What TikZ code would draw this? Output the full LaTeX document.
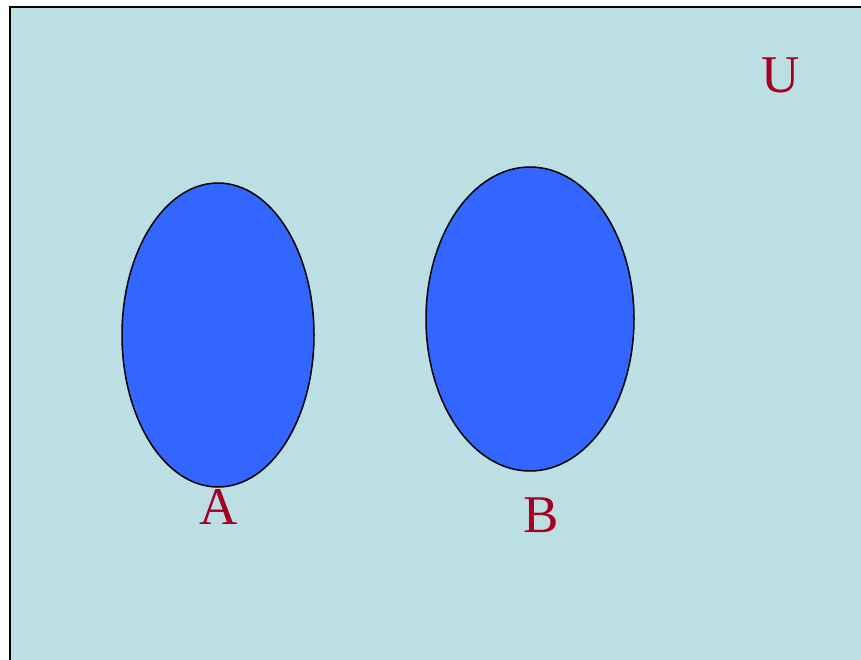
\documentclass[tikz,border=0pt]{standalone}
\usepackage{fontspec}
\setmainfont{Liberation Serif}
\usetikzlibrary{shapes.geometric}

\definecolor{univ}{HTML}{BBDFE2}
\definecolor{setfill}{HTML}{3366FF}
\definecolor{lbl}{HTML}{A50021}

\tikzstyle{every node}=[font=\fontsize{53pt}{60pt}\selectfont]
\tikzstyle{setA}=[ellipse, draw=black, line width=1.5pt, fill=setfill, inner sep=0pt]
\tikzstyle{lab}=[lbl, anchor=base, inner sep=0pt]

\begin{document}
\begin{tikzpicture}[x=1pt,y=-1pt]
	            % Okraje obrázku
	            \useasboundingbox (0,0) rectangle (861,660);

	            % Univerzum
	            \draw[fill=univ, line width=2pt] (10,7) rectangle (880,680);
	            \node[lab] (u) at (781,93) {U};

	            % Množiny A a B
	            \node[setA, minimum width=192pt, minimum height=304pt] (a) at (218,335) {};
	            \node[setA, minimum width=208pt, minimum height=304pt] (b) at (530,319) {};

	            % Popisky
	            \node[lab] (la) at (219,524) {A};
	            \node[lab] (lb) at (541,532) {B};
	        \end{tikzpicture}
\end{document}
